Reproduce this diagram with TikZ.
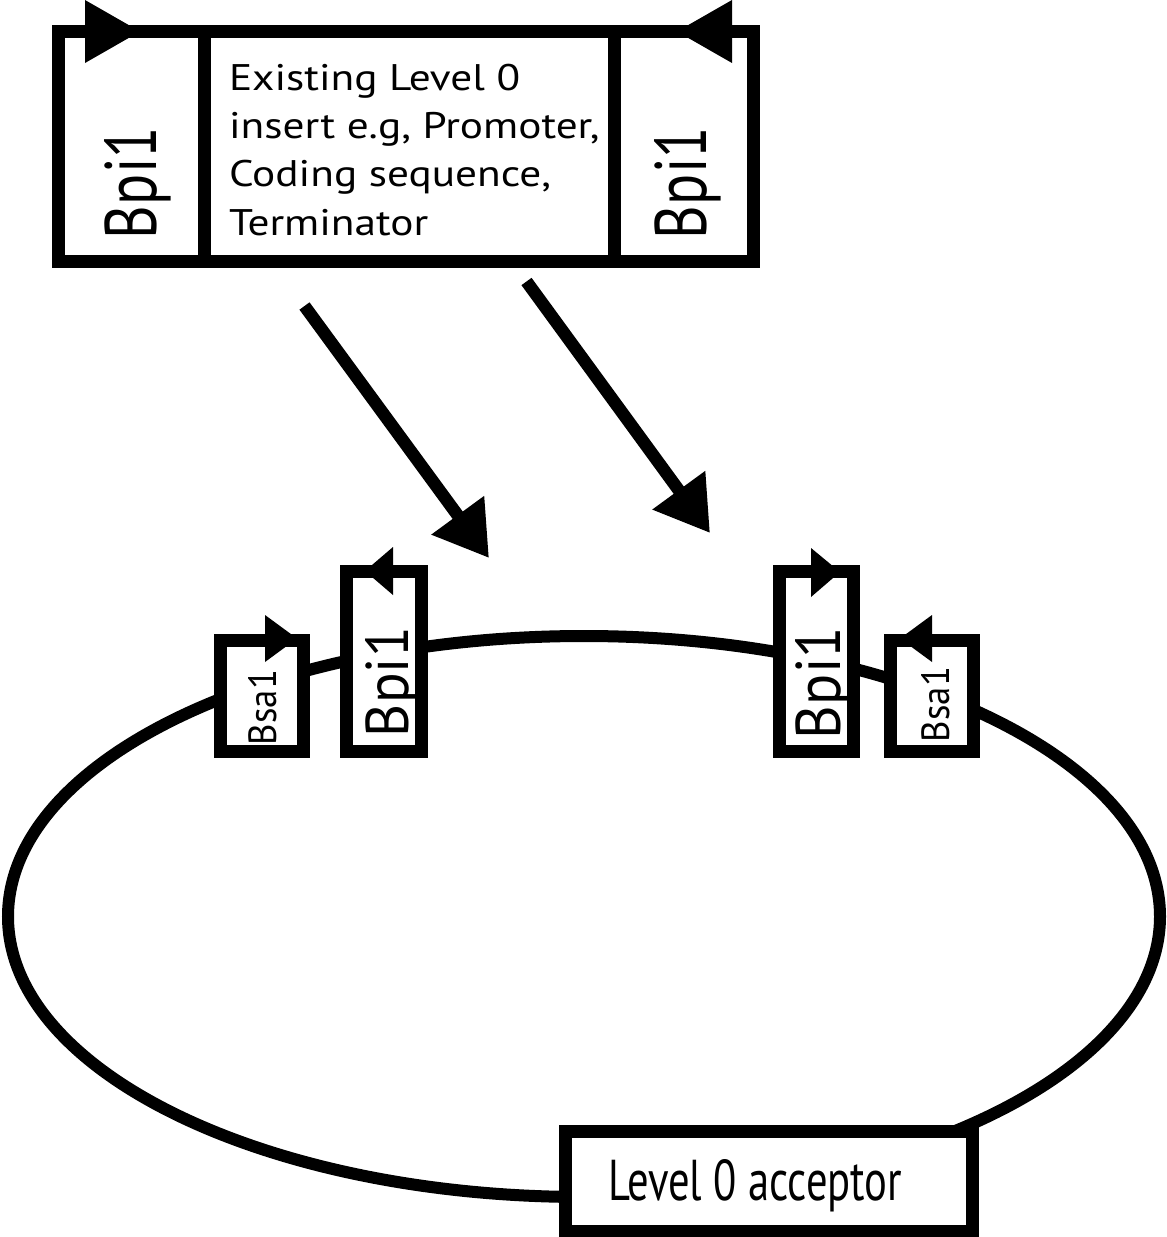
\documentclass[tikz,border=0pt]{standalone}
\usepackage{fontspec}
\setmainfont{PT Sans}
\newfontfamily\widefnt[FakeStretch=1.17]{PT Sans}
\usepackage{graphicx}
\usetikzlibrary{arrows.meta}
\begin{document}
\begin{tikzpicture}[x=1pt,y=-1pt,
  box/.style={draw=black, line width=13pt, fill=white, inner sep=0pt, outer sep=0pt, anchor=north west},
  tri/.style={fill=black},
  vlbl/.style={inner sep=0pt, outer sep=0pt, rotate=90, anchor=base west},
  bigarrow/.style={-{Triangle[length=53pt,width=62pt]}, line width=12.5pt},
  maintext/.style={inner sep=0pt, outer sep=0pt, align=left, anchor=base west,
    font=\widefnt\fontsize{37}{48.3}\selectfont}
]
\useasboundingbox (0,0) rectangle (1167,1237);
% plasmid
\draw[line width=12pt] (584,916.5) ellipse [x radius=576, y radius=280.5];

% top insert
\node[box, minimum width=145.5pt, minimum height=229.5pt] (tl) at (58.5,31.5) {};
\node[box, minimum width=410pt, minimum height=229.5pt] (tm) at (204,31.5) {};
\node[box, minimum width=139.5pt, minimum height=229.5pt] (tr) at (614,31.5) {};
\fill[tri] (85,0) -- (140,31.5) -- (85,63) -- cycle;
\fill[tri] (732,0) -- (677,31.5) -- (732,63) -- cycle;
\node[vlbl] (tlt) at (156,239) {\resizebox{112pt}{52pt}{Bpi1}};
\node[vlbl] (trt) at (706,239) {\resizebox{112pt}{52pt}{Bpi1}};
\node[maintext] (tmt) at (229,235) {Existing Level 0\\insert e.g, Promoter,\\Coding sequence,\\Terminator};

% arrows
\coordinate (a1s) at (304.5,306);
\coordinate (a1e) at (489,558);
\coordinate (a2s) at (526.5,281.5);
\coordinate (a2e) at (710,533);
\draw[bigarrow] (a1s) -- (a1e);
\draw[bigarrow] (a2s) -- (a2e);

% sites on plasmid
\node[box, minimum width=83.5pt, minimum height=111.5pt] (bsaL) at (220,640) {};
\node[box, minimum width=75pt, minimum height=180pt] (bpiL) at (346.5,571.5) {};
\node[box, minimum width=74pt, minimum height=180pt] (bpiR) at (779.5,571.5) {};
\node[box, minimum width=83pt, minimum height=111.5pt] (bsaR) at (890,640) {};
\fill[tri] (265,615) -- (297,638.5) -- (265,662) -- cycle;
\fill[tri] (393,547) -- (365,571) -- (393,595) -- cycle;
\fill[tri] (811,548) -- (840,572) -- (811,597) -- cycle;
\fill[tri] (932,615) -- (900,638.5) -- (932,662) -- cycle;
\node[vlbl] (bsaLt) at (276,745) {\resizebox{75pt}{28pt}{Bsa1}};
\node[vlbl] (bpiLt) at (408,737) {\resizebox{110pt}{43pt}{Bpi1}};
\node[vlbl] (bpiRt) at (840,739) {\resizebox{112pt}{45pt}{Bpi1}};
\node[vlbl] (bsaRt) at (949,742) {\resizebox{75pt}{28pt}{Bsa1}};

% acceptor
\node[box, minimum width=407.5pt, minimum height=99.5pt] (acc) at (565,1131.5) {};
\node[inner sep=0pt, outer sep=0pt, anchor=base west] (acct) at (608,1200) {\resizebox{294pt}{41pt}{Level 0 acceptor}};
\end{tikzpicture}
\end{document}
